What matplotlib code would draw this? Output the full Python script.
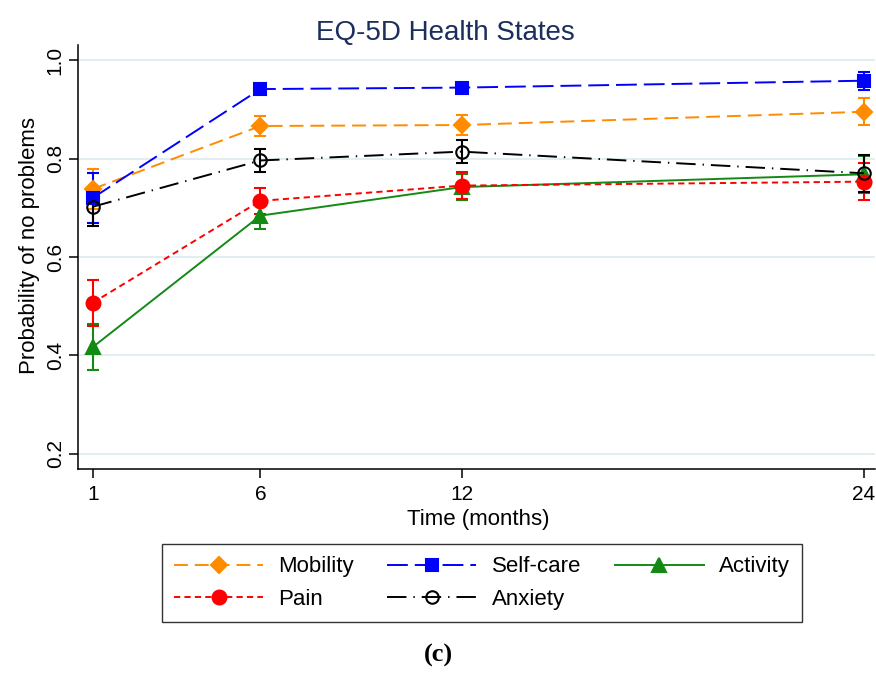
import matplotlib
matplotlib.use('Agg')
import matplotlib.pyplot as plt

plt.rcParams['font.family'] = ['Liberation Sans', 'DejaVu Sans']
plt.rcParams['lines.scale_dashes'] = False

# EQ-5D probability of no problems, with error bar half-widths
months = [1, 6, 12, 24]
mobility = [0.738, 0.866, 0.868, 0.895]
mobility_err = [0.040, 0.020, 0.020, 0.027]
selfcare = [0.720, 0.941, 0.944, 0.958]
selfcare_err = [0.050, 0.008, 0.008, 0.018]
activity = [0.417, 0.684, 0.742, 0.768]
activity_err = [0.047, 0.027, 0.027, 0.038]
pain = [0.507, 0.714, 0.745, 0.753]
pain_err = [0.047, 0.027, 0.027, 0.038]
anxiety = [0.702, 0.796, 0.814, 0.770]
anxiety_err = [0.039, 0.024, 0.023, 0.037]

yticks = [0.2, 0.4, 0.6, 0.8, 1.0]
ytick_labels = ['0.2', '0.4', '0.6', '0.8', '1.0']

fig = plt.figure(figsize=(8.76, 6.9), dpi=100)
ax = fig.add_axes([78/876, 1 - 469/690, 1 - 78/876 - 0.001, (469 - 45)/690])

series = [
    ('Mobility', mobility, mobility_err, '#ff8c00', (0, (10, 5)), 'D', 8.5, 'full'),
    ('Self-care', selfcare, selfcare_err, '#0000ff', (0, (15, 5)), 's', 9, 'full'),
    ('Activity', activity, activity_err, '#138a13', '-', '^', 10.5, 'full'),
    ('Pain', pain, pain_err, '#ff0000', (0, (4.5, 3)), 'o', 10, 'full'),
    ('Anxiety', anxiety, anxiety_err, 'black', (0, (14, 5, 1, 5)), 'o', 9, 'none'),
]

handles = {}
for name, vals, err, col, ls, mk, ms, fill in series:
    c = ax.errorbar(months, vals, yerr=err, color=col, linestyle=ls, lw=1.4,
                    marker=mk, markersize=ms, fillstyle=fill,
                    markerfacecolor=col if fill == 'full' else 'none',
                    markeredgecolor=col, markeredgewidth=1.5,
                    ecolor=col, elinewidth=1.5, capsize=4.5, capthick=1.5,
                    label=name)
    handles[name] = c[0]

ax.set_xlim(0.561, 24.33)
ax.set_ylim(0.1695, 1.0305)
ax.set_xticks(months)
ax.set_yticks(yticks)
ax.set_yticklabels(ytick_labels)

ax.grid(axis='y', color='#e4edf1', lw=1.5)
ax.set_axisbelow(True)
for s in ['top', 'right']:
    ax.spines[s].set_visible(False)
for s in ['left', 'bottom']:
    ax.spines[s].set_linewidth(1.1)

ax.tick_params(axis='both', direction='out', length=6.5, width=1.1, labelsize=15)
ax.tick_params(axis='x', pad=5)
ax.tick_params(axis='y', pad=3)
for lab in ax.get_yticklabels():
    lab.set_rotation(90)
    lab.set_va('center')

fig.text(445/876, 1 - 33/690, 'EQ-5D Health States', ha='center', va='center',
         fontsize=20, color='#1c2e5c')
fig.text(478/876, 1 - 520/690, 'Time (months)', ha='center', va='center', fontsize=16)
fig.text(30/876, 1 - 245/690, 'Probability of no problems', ha='center', va='center',
         rotation=90, fontsize=16)

# column-major order so the legend reads row by row
order = ['Mobility', 'Pain', 'Self-care', 'Anxiety', 'Activity']
leg = fig.legend([handles[k] for k in order], order, loc='center',
                 bbox_to_anchor=(482/876, 1 - 583/690), ncol=3, fontsize=16,
                 frameon=True, fancybox=False, edgecolor='black', numpoints=1,
                 handlelength=4.0, handletextpad=0.7, columnspacing=1.5,
                 borderpad=0.55, labelspacing=0.5)
leg.get_frame().set_linewidth(1.0)

fig.text(438/876, 1 - 655/690, '(c)', ha='center', va='center', fontsize=19,
         fontweight='bold', family=['Liberation Serif', 'DejaVu Serif'])

fig.savefig('out.png', dpi=100)
